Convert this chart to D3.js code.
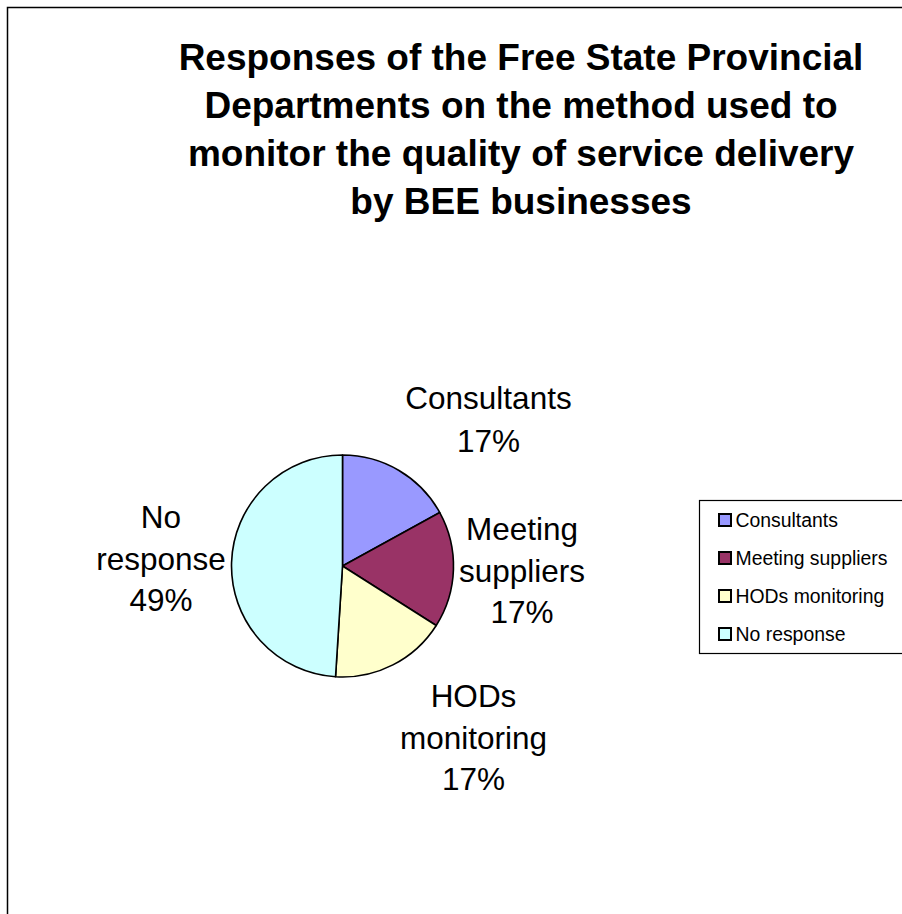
<!DOCTYPE html>
<html>
<head>
<meta charset="utf-8">
<script src="https://cdn.jsdelivr.net/npm/d3@7"></script>
<style>
  html, body { margin: 0; padding: 0; background: #fff; }
  svg { display: block; }
  text { font-family: Arial, "Liberation Sans", sans-serif; fill: #000; }
</style>
</head>
<body>
<svg id="chart" width="902" height="914"></svg>
<script>
// Survey responses (percent of departments)
const categories = ["Consultants", "Meeting suppliers", "HODs monitoring", "No response"];
const values = [17, 17, 17, 49];
const colors = ["#9999FF", "#993366", "#FFFFCC", "#CCFFFF"];
// Slice label text, one entry per line
const sliceLabelLines = [
  ["Consultants"],
  ["Meeting", "suppliers"],
  ["HODs", "monitoring"],
  ["No", "response"]
];
const titleLines = [
  "Responses of the Free State Provincial",
  "Departments on the method used to",
  "monitor the quality of service delivery",
  "by BEE businesses"
];

const svg = d3.select("#chart");

// Chart area frame
svg.append("rect")
  .attr("x", 7.5).attr("y", 7.5)
  .attr("width", 920).attr("height", 940)
  .attr("fill", "#fff").attr("stroke", "#000").attr("stroke-width", 1.5);

// Title
svg.append("text")
  .attr("text-anchor", "middle")
  .attr("font-size", 37)
  .attr("font-weight", "bold")
  .selectAll("tspan")
  .data(titleLines)
  .join("tspan")
  .attr("x", 521)
  .attr("y", (d, i) => 70 + i * 48)
  .text(d => d);

// Pie
const cx = 342.5, cy = 566, radius = 111;
const pie = d3.pie().sort(null).value(d => d.value);
const arcs = pie(categories.map((c, i) => ({ name: c, value: values[i], color: colors[i] })));
const arc = d3.arc().innerRadius(0).outerRadius(radius);

const g = svg.append("g").attr("transform", `translate(${cx},${cy})`);
g.selectAll("path")
  .data(arcs)
  .join("path")
  .attr("d", arc)
  .attr("fill", d => d.data.color)
  .attr("stroke", "#000")
  .attr("stroke-width", 1.6)
  .attr("stroke-linejoin", "round");

// Slice labels: category name plus percent share, placed around the pie
const labelAnchors = [
  { x: 488.5, y: 409 },
  { x: 522, y: 540 },
  { x: 473.5, y: 707 },
  { x: 161, y: 528 }
];
const total = d3.sum(values);
const fmt = v => Math.round(v / total * 100) + "%";
arcs.forEach((a, i) => {
  const lines = sliceLabelLines[i].concat([fmt(a.data.value)]);
  const step = lines.length === 2 ? 43 : 41.5;
  svg.append("text")
    .attr("text-anchor", "middle")
    .attr("font-size", 31.5)
    .selectAll("tspan")
    .data(lines)
    .join("tspan")
    .attr("x", labelAnchors[i].x)
    .attr("y", (d, j) => labelAnchors[i].y + j * step)
    .text(d => d);
});

// Legend
const legend = svg.append("g");
legend.append("rect")
  .attr("x", 699.5).attr("y", 500.5)
  .attr("width", 240).attr("height", 153)
  .attr("fill", "#fff").attr("stroke", "#000").attr("stroke-width", 1.2);

const rows = legend.selectAll("g.row")
  .data(categories)
  .join("g")
  .attr("class", "row")
  .attr("transform", (d, i) => `translate(0,${527 + i * 38})`);
rows.append("rect")
  .attr("x", 719).attr("y", -13)
  .attr("width", 12).attr("height", 12)
  .attr("fill", (d, i) => colors[i])
  .attr("stroke", "#000").attr("stroke-width", 2);
rows.append("text")
  .attr("x", 735.5).attr("y", 0)
  .attr("font-size", 19.4)
  .text(d => d);
</script>
</body>
</html>
